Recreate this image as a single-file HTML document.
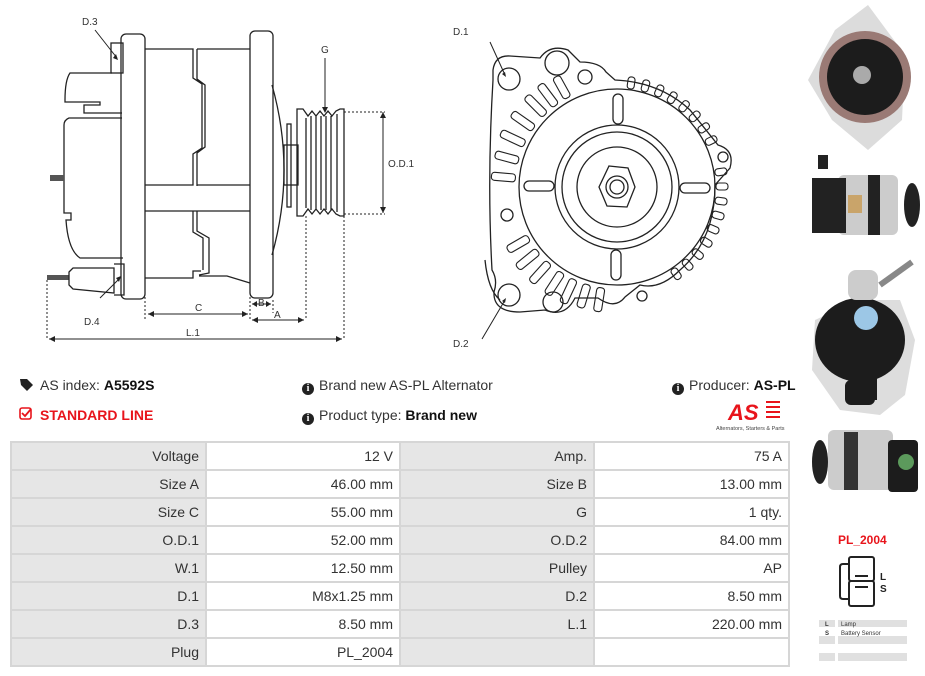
<!DOCTYPE html>
<html><head><meta charset="utf-8"><style>
body{margin:0;background:#fff;width:925px;height:676px;overflow:hidden;position:relative;font-family:"Liberation Sans",sans-serif;}
.t{position:absolute;font-size:14px;color:#333;white-space:nowrap;}
b{color:#111}
table{position:absolute;left:10px;top:441px;border-collapse:collapse;table-layout:fixed;width:778px}
td{border:2px solid #d6d6d6;height:26px;text-align:right;padding:0 6px 0 0;font-size:14px;color:#333;box-sizing:content-box;overflow:hidden}
td.l{background:#e6e6e6;}
.ic{display:inline-block;width:12px;height:12px;border-radius:50%;background:#222;color:#fff;font-size:10px;font-weight:bold;text-align:center;line-height:12px;vertical-align:-1px;margin-right:5px;font-family:"Liberation Serif",serif}
</style></head><body>
<svg width="925" height="676" style="position:absolute;left:0;top:0" fill="none" stroke="#222" stroke-width="1.3">
<!-- side view -->
<path d="M112 73 H70 Q65 80 65 100 V102 H100 V105 H84 V113 H122 M122 118 H69 Q64 120 64 125 V213 H71 V220 H66 Q68 250 80 258 H123"/>
<rect x="111" y="43" width="12" height="30"/>
<rect x="121" y="34" width="24" height="265" rx="5"/>
<path d="M145 49 H193 V78 L202 84 V148 L193 154 V185 H145 M197 49 H250 M197 185 H250 M197 49 V79 L205 85 V147 L197 153 V186"/>
<path d="M145 211 H250 M145 278 H193 V271 L201 271 M199 276 H227 L250 283 M193 211 V232 L203 238 V270 M197 211 V231 L209 238 V273 L199 275"/>
<rect x="250" y="31" width="23" height="267" rx="5"/>
<path d="M272 85 Q296 170 272 255"/>
<rect x="287" y="124" width="4" height="83"/>
<rect x="284" y="145" width="14" height="40"/>
<path d="M297 109 H303 L308 116 L312 111 L316 116 L320 111 L324 116 L328 111 L332 116 L336 111 L340 109 H344 V216 H340 L336 214 L332 209 L328 214 L324 209 L320 214 L316 209 L312 214 L308 209 L303 216 H297 Z M306 118 V208 M311 116 V210 M316 116 V210 M321 116 V210 M326 116 V210 M331 116 V210 M337 114 V212"/>
<rect x="50" y="175" width="14" height="6" fill="#555" stroke="none"/>
<rect x="47" y="275" width="22" height="5" fill="#555" stroke="none"/>
<path d="M69 272 L73 268 H114 V293 L73 289 L69 285 Z M114 264 H124 V295 H114"/>
<g stroke-dasharray="2,2" stroke-width="1"><path d="M47 280 V340 M145 297 V320 M250 297 V320 M273 300 V313 M306 216 V320 M344 216 V340 M344 112 H385 M344 214 H385"/></g>
<g stroke-width="1"><path d="M49 339 H342 M148 314 H248 M252 304 H271 M252 320 H304 M383 112 V213"/><path d="M325 58 V111"/><path d="M95 30 L117 58 M100 298 L121 277 M490 42 L505 75 M482 339 L505 300"/></g>
<g fill="#222" stroke="none"><path d="M49 339 l6 -3 v6z M342 339 l-6 -3 v6z M148 314 l6 -3 v6z M248 314 l-6 -3 v6z M252 304 l5 -3 v6z M271 304 l-5 -3 v6z M252 320 l6 -3 v6z M304 320 l-6 -3 v6z M383 112 l-3 6 h6z M383 213 l-3 -6 h6z M325 113 l-3 -6 h6z M118 60 l-5 -2 3 -4z M121 276 l-5 2 3 4z M506 77 l-4 -3 3 -2z M506 298 l-4 3 3 2z"/></g>
<g font-family="Liberation Sans" font-size="10" fill="#333" stroke="none">
<text x="82" y="25">D.3</text><text x="84" y="325">D.4</text><text x="321" y="53">G</text><text x="195" y="311">C</text><text x="258" y="306">B</text><text x="274" y="318">A</text><text x="186" y="336">L.1</text><text x="388" y="167">O.D.1</text><text x="453" y="35">D.1</text><text x="453" y="347">D.2</text></g>
<!-- front view -->
<path d="M493 70 Q495 55 510 56 L540 58 Q550 44 568 50 L580 62 Q600 62 606 72 L615 80 Q660 82 690 110 L718 145 Q735 150 730 168 L715 185 Q715 240 680 270 Q660 290 640 285 L625 297 Q615 310 598 298 H575 Q565 318 545 310 L520 312 Q493 312 494 292 Q498 280 492 270 Q487 180 493 80 Z"/>
<path d="M485 260 Q488 290 500 300"/>
<circle cx="617" cy="187" r="98"/><circle cx="617" cy="187" r="62"/><circle cx="617" cy="187" r="55"/><circle cx="617" cy="187" r="40"/>
<polygon points="609,166 628,168 635,187 627,207 607,206 599,187"/><circle cx="617" cy="187" r="11"/><circle cx="617" cy="187" r="7"/>
<g><rect x="680" y="183" width="30" height="10" rx="5"/><rect x="680" y="183" width="30" height="10" rx="5" transform="rotate(90 617 187)"/><rect x="680" y="183" width="30" height="10" rx="5" transform="rotate(180 617 187)"/><rect x="680" y="183" width="30" height="10" rx="5" transform="rotate(270 617 187)"/></g>
<circle cx="509" cy="79" r="11"/><circle cx="509" cy="295" r="11"/><circle cx="557" cy="63" r="12"/><circle cx="585" cy="77" r="7"/><circle cx="507" cy="215" r="6"/><circle cx="553" cy="302" r="10"/><circle cx="642" cy="296" r="5"/><circle cx="723" cy="157" r="5"/>
<g stroke-width="1.1">
<rect x="719" y="183" width="24" height="8" rx="3" transform="rotate(185 617 187)"/><rect x="719" y="183" width="24" height="8" rx="3" transform="rotate(195 617 187)"/><rect x="719" y="183" width="26" height="8" rx="3" transform="rotate(205 617 187)"/><rect x="719" y="183" width="26" height="8" rx="3" transform="rotate(215 617 187)"/><rect x="719" y="183" width="26" height="8" rx="3" transform="rotate(225 617 187)"/><rect x="719" y="183" width="26" height="8" rx="3" transform="rotate(233 617 187)"/><rect x="719" y="183" width="24" height="8" rx="3" transform="rotate(241 617 187)"/>
<rect x="719" y="183" width="24" height="8" rx="3" transform="rotate(150 617 187)"/><rect x="719" y="183" width="26" height="8" rx="3" transform="rotate(141 617 187)"/><rect x="719" y="183" width="26" height="8" rx="3" transform="rotate(132 617 187)"/><rect x="719" y="183" width="26" height="8" rx="3" transform="rotate(123 617 187)"/><rect x="719" y="183" width="26" height="8" rx="3" transform="rotate(115 617 187)"/><rect x="719" y="183" width="24" height="8" rx="3" transform="rotate(107 617 187)"/><rect x="719" y="183" width="24" height="8" rx="3" transform="rotate(99 617 187)"/>
<rect x="716" y="183" width="12" height="7" rx="3" transform="rotate(-82 617 187)"/><rect x="716" y="183" width="12" height="7" rx="3" transform="rotate(-74 617 187)"/><rect x="716" y="183" width="12" height="7" rx="3" transform="rotate(-66 617 187)"/><rect x="716" y="183" width="12" height="7" rx="3" transform="rotate(-58 617 187)"/><rect x="716" y="183" width="12" height="7" rx="3" transform="rotate(-50 617 187)"/><rect x="716" y="183" width="12" height="7" rx="3" transform="rotate(-42 617 187)"/><rect x="716" y="183" width="12" height="7" rx="3" transform="rotate(-34 617 187)"/><rect x="716" y="183" width="12" height="7" rx="3" transform="rotate(-26 617 187)"/>
<rect x="716" y="183" width="12" height="7" rx="3" transform="rotate(-8 617 187)"/><rect x="716" y="183" width="12" height="7" rx="3" transform="rotate(0 617 187)"/><rect x="716" y="183" width="12" height="7" rx="3" transform="rotate(8 617 187)"/><rect x="716" y="183" width="12" height="7" rx="3" transform="rotate(16 617 187)"/><rect x="716" y="183" width="12" height="7" rx="3" transform="rotate(24 617 187)"/><rect x="716" y="183" width="12" height="7" rx="3" transform="rotate(32 617 187)"/><rect x="716" y="183" width="12" height="7" rx="3" transform="rotate(40 617 187)"/><rect x="716" y="183" width="12" height="7" rx="3" transform="rotate(48 617 187)"/><rect x="716" y="183" width="12" height="7" rx="3" transform="rotate(56 617 187)"/></g>
<!-- photos -->
<g stroke="none">
<polygon points="868,5 905,55 902,120 868,150 832,120 808,80 835,30" fill="#dcdcdc"/>
<circle cx="865" cy="77" r="46" fill="#9a7a75"/><circle cx="865" cy="77" r="38" fill="#1c1c1c"/><circle cx="862" cy="75" r="9" fill="#aaa"/>
<rect x="818" y="155" width="10" height="14" fill="#222"/>
<rect x="838" y="175" width="60" height="60" rx="6" fill="#ccc"/><rect x="868" y="175" width="12" height="60" fill="#222"/><rect x="812" y="178" width="34" height="55" fill="#222"/><ellipse cx="912" cy="205" rx="8" ry="22" fill="#222"/><rect x="848" y="195" width="14" height="18" fill="#c9a46a"/>
<polygon points="858,300 900,300 915,340 905,395 880,415 840,410 812,370 815,320" fill="#ddd"/>
<ellipse cx="860" cy="340" rx="45" ry="42" fill="#1c1c1c"/><circle cx="866" cy="318" r="12" fill="#9cc7e6"/><rect x="848" y="270" width="30" height="30" rx="8" fill="#ccc"/><path d="M880 285 L912 262" stroke="#888" stroke-width="6"/><rect x="857" y="360" width="20" height="40" fill="#1c1c1c"/><rect x="845" y="380" width="30" height="25" rx="6" fill="#1c1c1c"/>
<rect x="828" y="430" width="65" height="60" rx="6" fill="#ccc"/><rect x="844" y="432" width="14" height="58" fill="#333"/><ellipse cx="820" cy="462" rx="8" ry="22" fill="#222"/><rect x="888" y="440" width="30" height="52" rx="4" fill="#1c1c1c"/><circle cx="906" cy="462" r="8" fill="#5c9a5c"/>
</g>
<!-- plug -->
<g stroke="#222" stroke-width="2"><rect x="849" y="557" width="25" height="24" rx="2"/><rect x="849" y="581" width="25" height="25" rx="2"/><path d="M849 564 H843 Q840 564 840 567 V596 Q840 599 843 599 H849"/><path d="M855 576 H868 M855 587 H868"/></g>
<text x="880" y="580" font-family="Liberation Sans" font-weight="bold" font-size="10" fill="#222" stroke="none">L</text>
<text x="880" y="592" font-family="Liberation Sans" font-weight="bold" font-size="10" fill="#222" stroke="none">S</text>
<g fill="#e0e0e0" stroke="none"><rect x="819" y="620" width="16" height="7"/><rect x="838" y="620" width="69" height="7"/><rect x="819" y="636" width="16" height="8"/><rect x="838" y="636" width="69" height="8"/><rect x="819" y="653" width="16" height="8"/><rect x="838" y="653" width="69" height="8"/></g>
<g font-family="Liberation Sans" font-size="6" fill="#333" stroke="none"><text x="825" y="626" font-weight="bold">L</text><text x="841" y="626">Lamp</text><text x="825" y="635" font-weight="bold">S</text><text x="841" y="635">Battery Sensor</text></g>
<text x="838" y="544" font-family="Liberation Sans" font-weight="bold" font-size="12" fill="#e8141b" stroke="none">PL_2004</text>
<!-- AS logo -->
<text x="728" y="420" font-family="Liberation Sans" font-weight="bold" font-style="italic" font-size="22" fill="#e8141b" stroke="none">AS</text>
<g fill="#e8141b" stroke="none"><rect x="766" y="401" width="14" height="2"/><rect x="766" y="406" width="14" height="2"/><rect x="766" y="411" width="14" height="2"/><rect x="766" y="416" width="14" height="2"/></g>
<text x="716" y="430" font-family="Liberation Sans" font-size="5.5" fill="#444" stroke="none">Alternators, Starters &amp; Parts</text>
<!-- icons -->
<path d="M20 379 h7 l6 6 -6 6 -6 -6z" fill="#222" stroke="none"/>
<rect x="20" y="408" width="11" height="11" rx="2" stroke="#e8141b" stroke-width="1.6"/><path d="M22 413 l3 3 6 -7" stroke="#e8141b" stroke-width="1.8"/>
</svg>
<div class="t" style="left:40px;top:377px">AS index: <b>A5592S</b></div>
<div class="t" style="left:40px;top:407px;color:#e8141b;font-weight:bold">STANDARD LINE</div>
<div class="t" style="left:302px;top:377px"><span class="ic">i</span>Brand new AS-PL Alternator</div>
<div class="t" style="left:302px;top:407px"><span class="ic">i</span>Product type: <b>Brand new</b></div>
<div class="t" style="left:672px;top:377px"><span class="ic">i</span>Producer: <b>AS-PL</b></div>
<table>
<colgroup><col style="width:195px"><col style="width:194px"><col style="width:194px"><col style="width:195px"></colgroup>
<tr><td class="l">Voltage</td><td>12 V</td><td class="l">Amp.</td><td>75 A</td></tr>
<tr><td class="l">Size A</td><td>46.00 mm</td><td class="l">Size B</td><td>13.00 mm</td></tr>
<tr><td class="l">Size C</td><td>55.00 mm</td><td class="l">G</td><td>1 qty.</td></tr>
<tr><td class="l">O.D.1</td><td>52.00 mm</td><td class="l">O.D.2</td><td>84.00 mm</td></tr>
<tr><td class="l">W.1</td><td>12.50 mm</td><td class="l">Pulley</td><td>AP</td></tr>
<tr><td class="l">D.1</td><td>M8x1.25 mm</td><td class="l">D.2</td><td>8.50 mm</td></tr>
<tr><td class="l">D.3</td><td>8.50 mm</td><td class="l">L.1</td><td>220.00 mm</td></tr>
<tr><td class="l">Plug</td><td>PL_2004</td><td class="l"></td><td></td></tr>
</table>
</body></html>
